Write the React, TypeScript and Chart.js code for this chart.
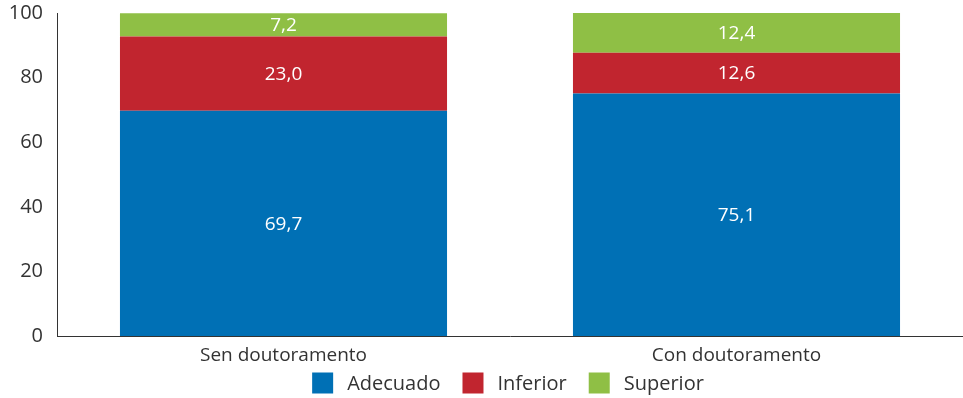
import React, { useEffect, useRef } from "react";
import { Chart, registerables } from "chart.js";

Chart.register(...registerables);

const categories = ["Sen doutoramento", "Con doutoramento"];
const adecuado = [69.7, 75.1];
const inferior = [23.0, 12.6];
const superior = [7.2, 12.4];
const yTicks = [0, 20, 40, 60, 80, 100];

const FONT = "'Open Sans', 'Noto Sans', sans-serif";

const valueLabels = {
  id: "valueLabels",
  afterDatasetsDraw(chart: any) {
    const ctx = chart.ctx;
    ctx.save();
    ctx.fillStyle = "#ffffff";
    ctx.font = `19px ${FONT}`;
    ctx.textAlign = "center";
    ctx.textBaseline = "middle";
    chart.data.datasets.forEach((ds: any, di: number) => {
      const meta = chart.getDatasetMeta(di);
      meta.data.forEach((bar: any, i: number) => {
        const v = ds.data[i];
        const y = (bar.y + bar.base) / 2;
        ctx.fillText(v.toFixed(1).replace(".", ","), bar.x, y + 1);
      });
    });
    ctx.restore();
  },
};

const bottomLegend = {
  id: "bottomLegend",
  afterDraw(chart: any) {
    const ctx = chart.ctx;
    const ca = chart.chartArea;
    ctx.save();
    ctx.font = `20px ${FONT}`;
    ctx.textBaseline = "middle";
    ctx.textAlign = "left";
    const box = 21;
    const gap = 14;
    const itemPad = 22;
    const items = chart.data.datasets.map((ds: any) => ({
      label: ds.label,
      color: ds.backgroundColor,
      w: box + gap + ctx.measureText(ds.label).width,
    }));
    const total = items.reduce((s: number, it: any) => s + it.w, 0) + itemPad * (items.length - 1);
    let x = (ca.left + ca.right) / 2 - total / 2 - 2;
    const cy = 383;
    items.forEach((it: any) => {
      ctx.fillStyle = it.color;
      ctx.fillRect(x, cy - box / 2, box, box);
      ctx.fillStyle = "#333333";
      ctx.fillText(it.label, x + box + gap, cy + 1);
      x += it.w + itemPad;
    });
    ctx.restore();
  },
};

export default function App() {
  const ref = useRef<HTMLCanvasElement | null>(null);
  useEffect(() => {
    const chart = new Chart(ref.current!, {
      type: "bar",
      data: {
        labels: categories,
        datasets: [
          { label: "Adecuado", data: adecuado, backgroundColor: "#0070b5" },
          { label: "Inferior", data: inferior, backgroundColor: "#c1252f" },
          { label: "Superior", data: superior, backgroundColor: "#8fbf45" },
        ],
      },
      options: {
        animation: false,
        responsive: false,
        maintainAspectRatio: false,
        layout: { padding: { top: 13, right: 0, left: 0, bottom: 32 } },
        datasets: { bar: { categoryPercentage: 1, barPercentage: 0.722 } },
        scales: {
          x: {
            stacked: true,
            grid: { display: false, drawTicks: false },
            border: { display: true, color: "#333333", width: 1 },
            ticks: { color: "#333333", font: { family: FONT, size: 19 }, padding: 8 },
            afterFit(scale: any) {
              scale.height = 30;
              scale.paddingLeft = 0;
              scale.paddingRight = 0;
            },
          },
          y: {
            stacked: true,
            min: 0,
            max: 100,
            afterBuildTicks(scale: any) {
              scale.ticks = yTicks.map((v) => ({ value: v }));
            },
            grid: { display: false, drawTicks: false },
            border: { display: true, color: "#333333", width: 1 },
            ticks: { color: "#333333", font: { family: FONT, size: 20 }, padding: 14 },
            afterFit(scale: any) {
              scale.width = 57;
              scale.paddingTop = 0;
              scale.paddingBottom = 0;
            },
          },
        },
        plugins: {
          legend: { display: false },
          tooltip: { enabled: false },
        },
      },
      plugins: [valueLabels, bottomLegend],
    });
    return () => chart.destroy();
  }, []);
  return (
    <div style={{ position: "absolute", left: 0, top: 0, width: 963, height: 398 }}>
      <canvas ref={ref} width={963} height={398} style={{ display: "block" }} />
    </div>
  );
}
